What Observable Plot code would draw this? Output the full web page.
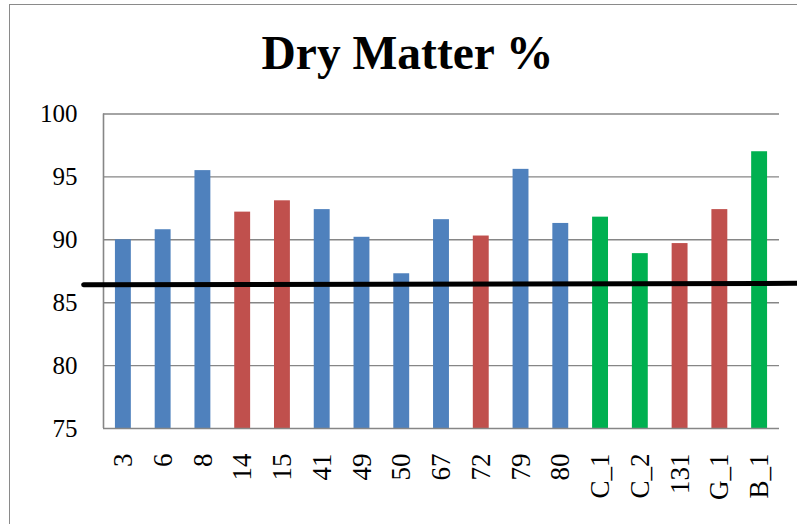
<!DOCTYPE html>
<html>
<head>
<meta charset="utf-8">
<script src="https://cdn.jsdelivr.net/npm/d3@7"></script>
<script src="https://cdn.jsdelivr.net/npm/@observablehq/plot@0.6"></script>
<style>
  html, body { margin: 0; padding: 0; background: #fff; }
  #wrap { position: relative; width: 797px; height: 524px; overflow: hidden; background: #fff; }
  #frame { position: absolute; left: 9px; top: 4px; width: 820px; height: 560px;
           border-left: 1.5px solid #8a8a8a; border-top: 1.5px solid #8a8a8a; box-sizing: border-box; }
  #title { position: absolute; left: 9px; width: 797px; top: 23px; text-align: center;
           font-family: "Liberation Serif", "Times New Roman", serif; font-weight: bold;
           font-size: 47.5px; line-height: 60px; color: #000; }
  #chart { position: absolute; left: 0; top: 0; }
</style>
</head>
<body>
<div id="wrap">
  <div id="frame"></div>
  <div id="title">Dry Matter %</div>
  <div id="chart"></div>
</div>
<script>
const categories = ["3","6","8","14","15","41","49","50","67","72","79","80","C_1","C_2","131","G_1","B_1"];
const dryMatter = [90.0, 90.8, 95.5, 92.2, 93.1, 92.4, 90.2, 87.3, 91.6, 90.3, 95.6, 91.3, 91.8, 88.9, 89.7, 92.4, 97.0];
const groups = ["A","A","A","B","B","A","A","A","A","B","A","A","C","C","B","B","C"];
const groupNames = ["A", "B", "C"];
const groupColors = ["#4F81BD", "#C0504D", "#00B050"];
const yTicks = [75, 80, 85, 90, 95, 100];
const trendX = [-1, 17.5];
const trendY = [86.42, 86.545];

const data = categories.map((c, i) => ({i, cat: c, value: dryMatter[i], group: groups[i]}));
const trend = trendX.map((x, k) => ({x, y: trendY[k]}));

const gray = "#868686";
const chart = Plot.plot({
  width: 797,
  height: 524,
  marginLeft: 103,
  marginRight: 18,
  marginTop: 113.5,
  marginBottom: 96,
  x: {domain: [-0.5, 16.5], axis: null},
  y: {domain: [75, 100], axis: null},
  color: {type: "ordinal", domain: groupNames, range: groupColors},
  style: {background: "transparent", fontFamily: "'Liberation Serif', 'Times New Roman', serif", color: "#000", overflow: "hidden"},
  marks: [
    Plot.ruleY(yTicks.slice(1), {stroke: gray, strokeWidth: 1.4}),
    Plot.rectY(data, {x1: d => d.i - 0.2, x2: d => d.i + 0.2, y1: 75, y2: "value", fill: "group"}),
    Plot.ruleY([75], {stroke: gray, strokeWidth: 1.6}),
    Plot.ruleX([-0.5], {y1: 75, y2: 100, stroke: gray, strokeWidth: 1.6}),
    Plot.axisY(yTicks, {tickSize: 0, tickPadding: 26, fontSize: 25, tickFormat: d => d, label: null}),
    Plot.axisX(d3.range(categories.length), {tickSize: 0, tickPadding: 25, tickRotate: -90, fontSize: 27, tickFormat: i => categories[i], label: null}),
    Plot.line(trend, {x: "x", y: "y", stroke: "#000", strokeWidth: 5, clip: false})
  ]
});
document.getElementById("chart").appendChild(chart);
</script>
</body>
</html>
